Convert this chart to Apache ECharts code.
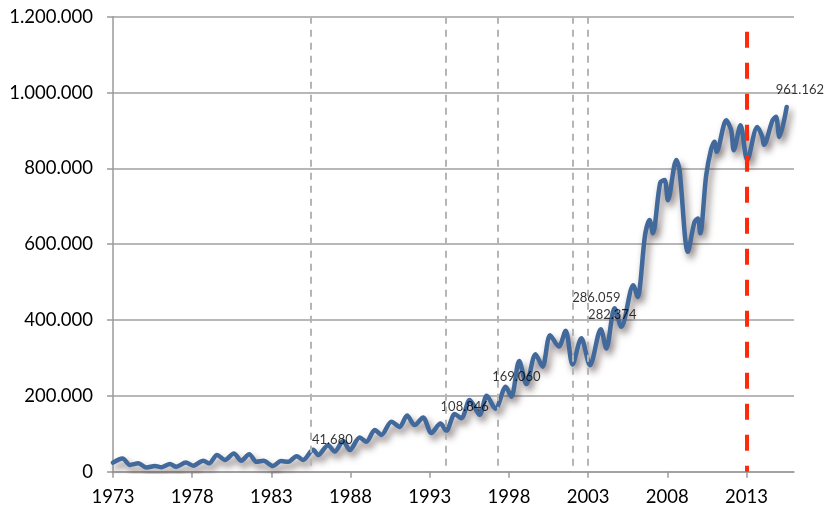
<!DOCTYPE html>
<html><head><meta charset="utf-8">
<script src="https://cdn.jsdelivr.net/npm/echarts@6/dist/echarts.min.js"></script>
<style>html,body{margin:0;padding:0;background:#fff}#c{width:824px;height:509px}</style>
</head><body><div id="c"></div>
<script>
// Time (fractional year) of each read point
const years = [
  1973.0,1973.6,1974.07,1974.6,1975.12,1975.65,1976.07,1976.6,1977.0,1977.6,
  1978.07,1978.7,1979.07,1979.57,1980.07,1980.63,1981.1,1981.6,1982.07,1982.5,
  1983.1,1983.6,1984.06,1984.6,1985.0,1985.64,1985.95,1986.58,1987.0,1987.53,
  1987.95,1988.58,1989.0,1989.53,1989.95,1990.58,1991.1,1991.57,1992.05,1992.58,
  1993.1,1993.68,1994.05,1994.58,1995.0,1995.52,1996.15,1996.6,1997.15,1997.8,
  1998.15,1998.65,1999.1,1999.68,2000.12,2000.6,2001.15,2001.58,2002.02,2002.57,
  2003.12,2003.8,2004.15,2004.67,2005.1,2005.85,2006.12,2006.6,2006.88,2007.09,
  2007.55,2007.83,2008.04,2008.57,2008.77,2009.3,2009.72,2009.93,2010.08,2010.45,
  2010.77,2010.98,2011.12,2011.72,2012.03,2012.2,2012.62,2013.05,2013.68,2014.0,
  2014.1,2014.65,2014.86,2015.08,2015.54
];
const values = [
  24000,35000,18000,22000,11000,15000,12000,20000,13000,24000,
  16000,29000,22000,44000,31000,48000,29000,46000,26000,29000,
  15000,28000,26000,41000,31000,58000,44000,70000,53000,81000,
  57000,90000,79000,110000,97000,132000,118000,148000,123000,143000,
  102000,127000,108000,152000,141000,189000,150000,200000,166000,224000,
  198000,292000,231000,310000,277000,360000,330000,372000,283000,352000,
  281000,376000,325000,431000,382000,492000,461000,625000,664000,629000,
  762000,769000,716000,822000,796000,580000,659000,668000,629000,780000,
  851000,870000,844000,927000,901000,848000,914000,822000,909000,883000,
  862000,927000,936000,883000,962000
];
const tickYears = [1973,1978,1983,1988,1993,1998,2003,2008,2013];
const markerYears = [1985.5,1994.0,1997.32,2002.0,2003.0];
const forecastYear = 2013;
const annotationYears = [1985.5,1994.0,1997.32,2002.0,2003.0,2015.54];
const annotationValues = [41680,108846,169060,286059,282374,961162];
// label layout (pixel offsets), not data
const labelOffsets = [[1,-16],[-5,-24],[-6,-31],[0,-65],[0,-50],[-11,-17]];

function fmt(v){ return String(Math.round(v)).replace(/\B(?=(\d{3})+(?!\d))/g,'.'); }

const FONT = 'Lato';
const chart = echarts.init(document.getElementById('c'), null, {renderer:'canvas'});
chart.setOption({
  animation:false,
  backgroundColor:'#fff',
  grid:{left:113,right:30,top:16.7,bottom:37.3,containLabel:false},
  xAxis:{
    type:'value', min:1973, max:2016,
    axisLine:{show:true,lineStyle:{color:'#9a9a9a',width:1.5}},
    axisTick:{show:true,length:6,customValues:tickYears,lineStyle:{color:'#9a9a9a',width:1.5}},
    axisLabel:{customValues:tickYears,margin:16,fontFamily:FONT,fontSize:18.5,color:'#000',
      formatter:v=>String(Math.round(v))},
    splitLine:{show:false}
  },
  yAxis:{
    type:'value', min:0, max:1200000, interval:200000,
    axisLine:{show:true,lineStyle:{color:'#9a9a9a',width:1.5}},
    axisTick:{show:true,length:6,lineStyle:{color:'#9a9a9a',width:1.5}},
    axisLabel:{margin:20,fontFamily:FONT,fontSize:18.5,color:'#000',formatter:fmt},
    splitLine:{show:true,lineStyle:{color:'#a0a0a0',width:1.5}}
  },
  series:[
    {
      type:'line', name:'markers', data:[], z:1, silent:true,
      markLine:{
        silent:true, symbol:['none','none'], label:{show:false},
        lineStyle:{color:'#b5b5b5',width:2,type:[7,6]},
        data: markerYears.map(y=>[{coord:[y,1200000]},{coord:[y,0]}])
      }
    },
    {
      type:'line', name:'series', z:2,
      data: years.map((y,i)=>[y,values[i]]),
      showSymbol:false, smooth:0.3,
      lineStyle:{color:'#41699b',width:4.5,join:'round',cap:'round',
        shadowColor:'rgba(60,40,40,0.6)',shadowBlur:7,shadowOffsetX:3,shadowOffsetY:5}
    },
    {
      type:'line', name:'forecast', data:[], z:3, silent:true,
      markLine:{
        silent:true, symbol:['none','none'], label:{show:false},
        lineStyle:{color:'#ff2a0a',width:4,type:[16,15]},
        data:[[{coord:[forecastYear,1160000]},{coord:[forecastYear,0]}]]
      }
    },
    {
      type:'scatter', name:'labels', z:4, symbolSize:0, silent:true,
      data: annotationYears.map((y,i)=>({value:[y,annotationValues[i]],
        label:{offset:labelOffsets[i]}})),
      label:{show:true,position:'right',distance:0,fontFamily:FONT,fontSize:13,color:'#000',
        formatter:p=>fmt(p.value[1])}
    }
  ]
});
</script></body></html>
